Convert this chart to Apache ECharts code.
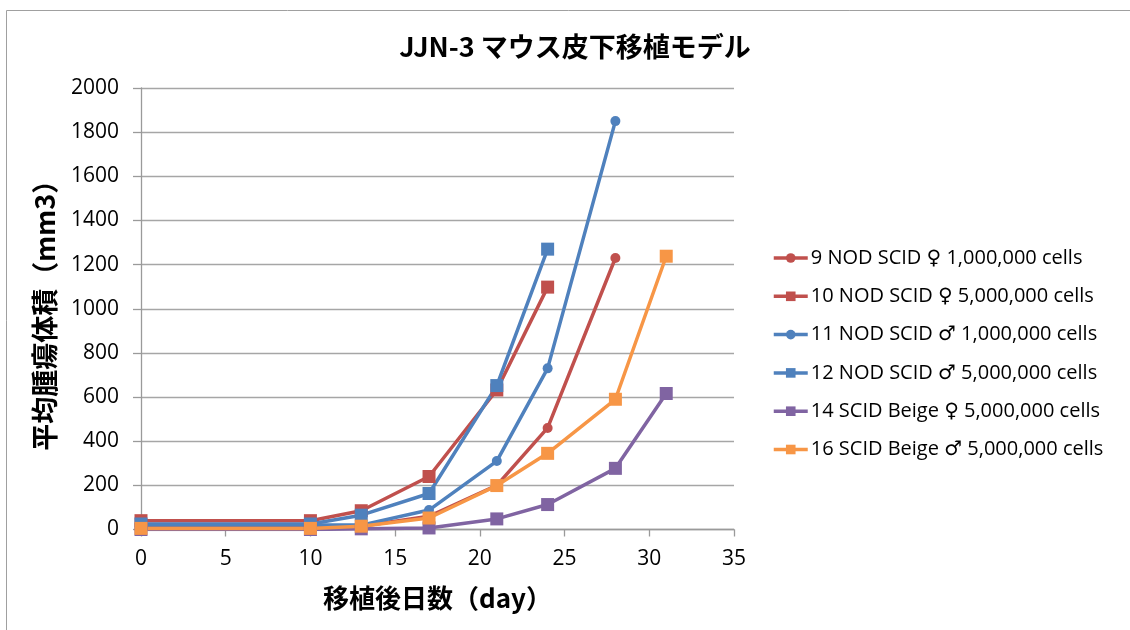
<!DOCTYPE html>
<html><head><meta charset="utf-8">
<script src="https://cdn.jsdelivr.net/npm/echarts@6/dist/echarts.min.js"></script>
<style>html,body{margin:0;padding:0;background:#fff}#c{width:1130px;height:630px}</style>
</head><body><div id="c"></div>
<script>
const titleText = 'JJN-3 マウス皮下移植モデル';
const xName = '移植後日数（day）';
const yName = '平均腫瘍体積（mm3）';
const days = [0, 10, 13, 17, 21, 24, 28, 31];
const names = [
  '9 NOD SCID ♀ 1,000,000 cells',
  '10 NOD SCID ♀ 5,000,000 cells',
  '11 NOD SCID ♂ 1,000,000 cells',
  '12 NOD SCID ♂ 5,000,000 cells',
  '14 SCID Beige ♀ 5,000,000 cells',
  '16 SCID Beige ♂ 5,000,000 cells'
];
const s9  = [10, 10, 15, 60, 200, 460, 1230];
const s10 = [40, 40, 85, 240, 632, 1098];
const s11 = [20, 20, 20, 88, 310, 730, 1850];
const s12 = [25, 25, 65, 163, 652, 1270];
const s14 = [0, 0, 3, 7, 48, 113, 277, 616];
const s16 = [5, 5, 15, 52, 199, 345, 590, 1238];
const values = [s9, s10, s11, s12, s14, s16];
const colors = ['#C0504D', '#C0504D', '#4F81BD', '#4F81BD', '#8064A2', '#F79646'];
const symbols = ['circle', 'rect', 'circle', 'rect', 'rect', 'rect'];

const latin = "'Open Sans','DejaVu Sans','Noto Sans CJK JP',sans-serif";
const cjk = "'Noto Sans CJK JP',sans-serif";

const series = values.map((vals, i) => ({
  name: names[i],
  type: 'line',
  data: vals.map((v, j) => [days[j], v]),
  symbol: symbols[i],
  symbolSize: symbols[i] === 'circle' ? 10 : 13,
  showSymbol: true,
  lineStyle: { color: colors[i], width: 3.5 },
  itemStyle: { color: colors[i] },
  emphasis: { disabled: true },
  animation: false
}));

const chart = echarts.init(document.getElementById('c'));
chart.setOption({
  animation: false,
  backgroundColor: '#fff',
  graphic: [{
    type: 'rect', shape: { x: 6.5, y: 10.5, width: 1200, height: 700 },
    style: { fill: 'none', stroke: '#a0a0a0', lineWidth: 1 }, silent: true
  }],
  title: {
    text: titleText, left: 570, top: 28, textAlign: 'center',
    textStyle: { fontFamily: cjk, fontWeight: 'bold', fontSize: 27, color: '#000' }
  },
  grid: { left: 141, right: 396, top: 88, bottom: 100.5, containLabel: false },
  legend: {
    orient: 'vertical', left: 767, top: 243,
    itemWidth: 34, itemHeight: 12, itemGap: 18.3,
    data: names,
    lineStyle: { width: 3.5 },
    textStyle: { fontFamily: latin, fontSize: 20, color: '#000', lineHeight: 20, padding: [0, 0, 0, -2] }
  },
  xAxis: {
    type: 'value', min: 0, max: 35, interval: 5,
    name: xName, nameLocation: 'middle', nameGap: 56,
    nameTextStyle: { fontFamily: cjk, fontWeight: 'bold', fontSize: 26, color: '#000' },
    axisLine: { show: true, lineStyle: { color: '#9a9a9a', width: 1.3 } },
    axisTick: { show: true, length: 7, lineStyle: { color: '#9a9a9a', width: 1.3 } },
    axisLabel: { fontFamily: latin, fontSize: 21, color: '#000', margin: 19 },
    splitLine: { show: false }
  },
  yAxis: {
    type: 'value', min: 0, max: 2000, interval: 200,
    name: yName, nameLocation: 'middle', nameRotate: 90, nameGap: 83,
    nameTextStyle: { fontFamily: cjk, fontWeight: 'bold', fontSize: 27, color: '#000' },
    axisLine: { show: true, lineStyle: { color: '#9a9a9a', width: 1.3 } },
    axisTick: { show: true, length: 8, lineStyle: { color: '#9a9a9a', width: 1.3 } },
    axisLabel: { fontFamily: latin, fontSize: 21, color: '#000', margin: 22, formatter: v => String(v) },
    splitLine: { show: true, lineStyle: { color: '#a6a6a6', width: 1.3 } }
  },
  series: series
});
</script></body></html>
